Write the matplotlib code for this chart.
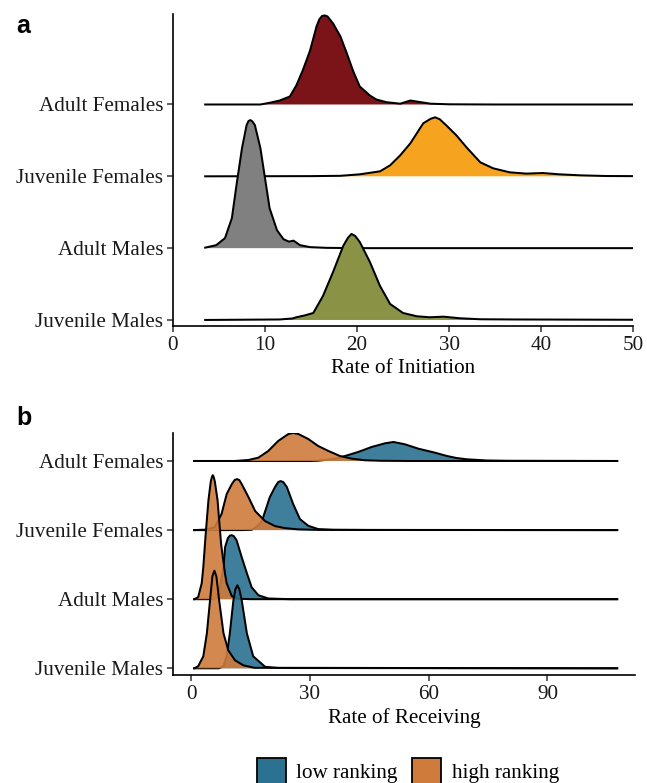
import matplotlib
matplotlib.use("Agg")
import matplotlib.pyplot as plt
from matplotlib.patches import Patch
import numpy as np

# ---------------- data ----------------
categories = ["Juvenile Males", "Adult Males", "Juvenile Females", "Adult Females"]

# Panel a: ridge heights (in pixels of a 72 px row) at given Rate of Initiation values
a_AF_x = [3.5, 9.5, 10.5, 11.6, 12.7, 13.4, 14.1, 14.9, 15.6, 15.9, 16.2, 16.5, 16.8, 17.4, 18.2, 18.9, 19.6, 20.3, 21.4, 22.1, 23.2, 24.7, 25.8, 26.8, 28.0, 30.0, 35.0, 50.0]
a_AF_h = [0, 0, 1.7, 4, 8, 19, 34, 54, 78, 85, 88.5, 89, 88, 81, 68, 51, 33, 18, 9, 5, 2.3, 0.8, 4, 2.5, 0.8, 0.2, 0, 0]

a_JF_x = [3.5, 15, 18.2, 20.3, 22.5, 23.6, 24.7, 25.8, 27.2, 28.0, 28.5, 29.0, 29.7, 30.8, 31.9, 33.4, 34.8, 36.6, 38.4, 40.2, 42.0, 44.2, 47.1, 50.0]
a_JF_h = [0, 0.2, 0.5, 2, 5, 11, 21, 33, 53, 57.5, 59, 57, 51, 41, 29, 14, 8, 4, 2.7, 3.3, 2, 1, 0.3, 0.2]

a_AM_x = [3.5, 4.7, 5.65, 6.4, 6.9, 7.5, 8.0, 8.2, 8.4, 8.6, 8.9, 9.5, 10.0, 10.5, 11.3, 12.0, 12.6, 13.1, 13.8, 14.9, 16.7, 20, 50]
a_AM_h = [0.5, 3, 10, 30, 63, 100, 123, 127, 128, 127, 123, 100, 70, 40, 18, 9, 6.5, 7.5, 3, 1, 0.3, 0, 0]

a_JM_x = [3.5, 11.6, 13.0, 13.4, 14.3, 15.25, 16.3, 17.4, 18.5, 19.0, 19.4, 19.8, 20.3, 21.4, 22.5, 23.6, 25.0, 26.5, 27.9, 29.4, 31.2, 33.4, 37.0, 50]
a_JM_h = [0, 0.5, 1.5, 2.7, 4.5, 7, 24, 48, 74, 82, 86, 84, 78, 58, 34, 16, 7, 3.7, 2.7, 3.3, 1.7, 0.7, 0.5, 0.2]

# Panel b: ridge heights (in pixels of a 69 px row), low / high ranking
b_AF_low_x = [0.8, 30, 32.1, 34, 36.4, 38.9, 42.2, 45.6, 49, 51.1, 54, 57.4, 61.6, 64.6, 67, 69.6, 74.7, 80, 95, 107.6]
b_AF_low_h = [0, 0, 0.3, 1, 2.3, 5, 9, 14, 17.7, 19, 16.7, 12.3, 8.3, 5, 3, 1.7, 0.5, 0.2, 0.1, 0]
b_AF_high_x = [0.8, 11.1, 14.5, 17, 19.5, 22, 24.6, 25.8, 27.1, 29.6, 32.1, 34.7, 37.6, 40.6, 43.9, 48, 55, 107.6]
b_AF_high_h = [0, 0, 1, 3.3, 10, 20, 27, 28, 27, 22, 15, 10, 5, 2.3, 0.7, 0.2, 0, 0]

b_JF_low_x = [0.8, 13, 15.3, 16.5, 17.9, 19.9, 21.2, 22.0, 22.6, 23.3, 24.2, 25.8, 27.5, 29.6, 32.1, 36, 45, 107.6]
b_JF_low_h = [0, 0, 0.3, 3, 9, 33, 43, 48, 49, 48, 43, 26, 11, 4.3, 1, 0.3, 0.1, 0]
b_JF_high_x = [0.8, 4, 6, 7.7, 9.0, 10.3, 11.0, 11.6, 12.2, 12.8, 14.5, 16.2, 18.7, 21.2, 23.7, 27, 32, 107.6]
b_JF_high_h = [0, 0.5, 3, 16, 36, 46, 50, 51, 50, 46, 33, 19, 9, 4, 2, 0.7, 0.2, 0]

b_AM_low_x = [0.8, 5.5, 6.5, 7.3, 8.2, 8.6, 9.3, 9.8, 10.3, 10.8, 11.5, 12.8, 14.1, 15.3, 17, 19.5, 25, 107.6]
b_AM_low_h = [0, 0, 2, 12, 32, 52, 61, 63.5, 64, 63, 59, 42, 26, 12, 4, 0.7, 0, 0]
b_AM_high_x = [0.8, 1.8, 2.7, 3.1, 3.7, 4.4, 5.0, 5.3, 5.5, 5.7, 6.0, 6.7, 7.6, 8.6, 9.0, 10.3, 12, 15, 107.6]
b_AM_high_h = [0, 2, 16, 32, 65, 99, 118, 122.5, 124, 122.5, 118, 99, 55, 25, 16, 3, 0.5, 0, 0]

b_JM_low_x = [0.8, 7.0, 8.2, 9.0, 9.8, 10.7, 11.2, 11.7, 12.2, 12.8, 14.1, 15.7, 18.7, 22, 107.6]
b_JM_low_h = [0, 0, 2, 12, 35, 68, 79, 83, 79, 68, 35, 12, 1.5, 0.3, 0]
b_JM_high_x = [0.8, 1.8, 3.1, 4.0, 4.8, 5.4, 5.9, 6.4, 7.1, 8.2, 9.4, 11.1, 13.2, 16, 107.6]
b_JM_high_h = [0, 2, 12, 35, 68, 92, 97.6, 92, 68, 35, 18, 8, 3, 0.5, 0]

a_xticks = [0, 10, 20, 30, 40, 50]
b_xticks = [0, 30, 60, 90]
legend_labels = ["low ranking", "high ranking"]

# ---------------- style ----------------
W, H = 647, 783
SERIF = ["Liberation Serif", "DejaVu Serif"]
FS = 15.2
col_a = {"Adult Females": "#7b1418", "Juvenile Females": "#f6a420",
         "Adult Males": "#808080", "Juvenile Males": "#899245"}
col_low = "#2b7190"
col_high = "#cf7b3c"

fig = plt.figure(figsize=(W / 100, H / 100), dpi=100)


def px_axes(left, top, right, bottom):
    return fig.add_axes([left / W, 1 - bottom / H, (right - left) / W, (bottom - top) / H])


def style(ax):
    for s in ["top", "right"]:
        ax.spines[s].set_visible(False)
    for s in ["left", "bottom"]:
        ax.spines[s].set_linewidth(1.2)
        ax.spines[s].set_color("black")
    ax.tick_params(direction="out", length=4, width=1.1, color="#333333", labelsize=FS, pad=3)
    for lab in ax.get_xticklabels() + ax.get_yticklabels():
        lab.set_family(SERIF)
        lab.set_color("#1a1a1a")


def ridge(ax, base, x, h, color, spacing, z, alpha=1.0):
    x = np.asarray(x, float)
    y = base + np.asarray(h, float) / spacing
    ax.fill_between(x, base, y, facecolor=color, alpha=alpha, lw=0, zorder=z)
    ax.plot(x, y, color="black", lw=1.45, zorder=z + 0.5, solid_joinstyle="round")


# ---------------- panel a ----------------
axA = px_axes(173, 14, 633, 326)
rows_a = [("Adult Females", a_AF_x, a_AF_h), ("Juvenile Females", a_JF_x, a_JF_h),
          ("Adult Males", a_AM_x, a_AM_h), ("Juvenile Males", a_JM_x, a_JM_h)]
for i, (name, xs, hs) in enumerate(rows_a):
    base = categories.index(name) + 1
    ridge(axA, base, xs, hs, col_a[name], 71.8, 2 + i * 2)
axA.set_xlim(0, 50)
axA.set_ylim(0.916, 5.26)
axA.set_xticks(a_xticks)
axA.set_yticks(range(1, 5))
axA.set_yticklabels(categories)
style(axA)
axA.set_xlabel("Rate of Initiation", family=SERIF, fontsize=FS, labelpad=3)

# ---------------- panel b ----------------
axB = px_axes(173, 433, 635, 675)
rows_b = [("Adult Females", b_AF_low_x, b_AF_low_h, b_AF_high_x, b_AF_high_h),
          ("Juvenile Females", b_JF_low_x, b_JF_low_h, b_JF_high_x, b_JF_high_h),
          ("Adult Males", b_AM_low_x, b_AM_low_h, b_AM_high_x, b_AM_high_h),
          ("Juvenile Males", b_JM_low_x, b_JM_low_h, b_JM_high_x, b_JM_high_h)]
for i, (name, lx, lh, hx, hh) in enumerate(rows_b):
    base = categories.index(name) + 1
    ridge(axB, base, lx, lh, col_low, 69.1, 2 + i * 4, alpha=0.9)
    ridge(axB, base, hx, hh, col_high, 69.1, 4 + i * 4, alpha=0.9)
axB.set_xlim(-4.55, 112.1)
axB.set_ylim(0.903, 4.405)
axB.set_xticks(b_xticks)
axB.set_yticks(range(1, 5))
axB.set_yticklabels(categories)
style(axB)
axB.set_xlabel("Rate of Receiving", family=SERIF, fontsize=FS, labelpad=3)

# panel letters
fig.text(16 / W, 1 - 33 / H, "a", fontsize=18, fontweight="bold", family="Liberation Sans", va="baseline")
fig.text(16 / W, 1 - 425 / H, "b", fontsize=18, fontweight="bold", family="Liberation Sans", va="baseline")

# legend
handles = [Patch(facecolor=col_low, edgecolor="black", lw=1.3),
           Patch(facecolor=col_high, edgecolor="black", lw=1.3)]
fig.legend(handles, legend_labels, loc="center", bbox_to_anchor=(408 / W, 1 - 771 / H), ncol=2,
           frameon=False, prop={"family": SERIF, "size": FS}, handlelength=1.35, handleheight=1.55,
           handletextpad=0.5, columnspacing=0.7, borderpad=0, borderaxespad=0)

fig.savefig("out.png", dpi=100)
